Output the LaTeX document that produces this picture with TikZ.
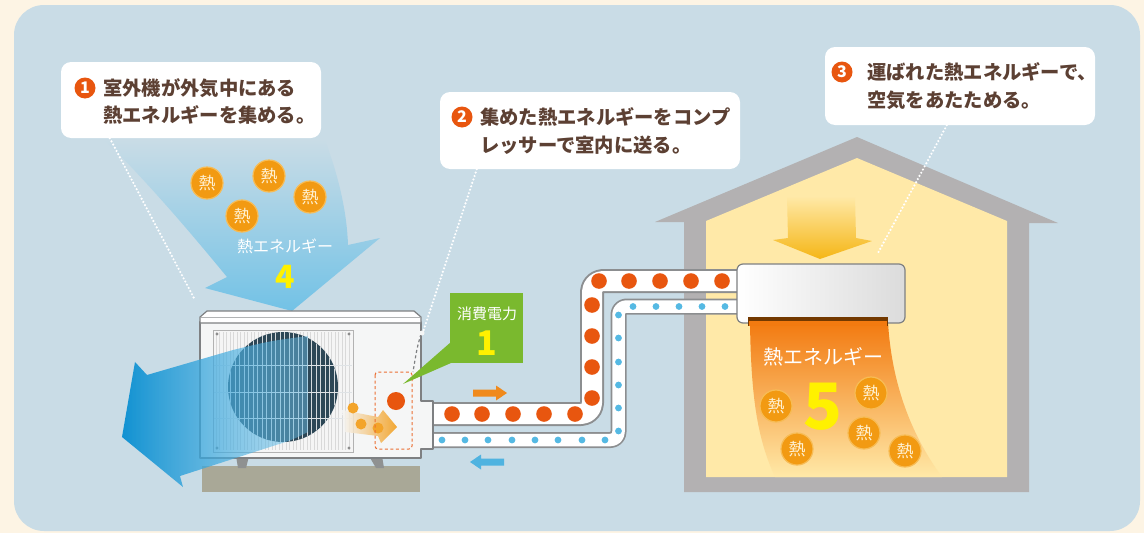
\documentclass[tikz,border=0pt]{standalone}
\usepackage{fontspec}
\newfontfamily\jp{Noto Sans CJK JP}
\usetikzlibrary{fadings}
\definecolor{cream}{HTML}{FDF4E4}
\definecolor{panel}{HTML}{C9DCE6}
\definecolor{txtbrown}{HTML}{5C4033}
\definecolor{numorange}{HTML}{E8560F}
\definecolor{heatorange}{HTML}{F29A12}
\definecolor{heatring}{HTML}{F7BC55}
\definecolor{heattext}{HTML}{FFF1D2}
\definecolor{dotred}{HTML}{E8560F}
\definecolor{dotblue}{HTML}{55B9E3}
\definecolor{pipeedge}{HTML}{8C8E90}
\definecolor{housegrey}{HTML}{B3B1B2}
\definecolor{houseyellow}{HTML}{FFE9A8}
\definecolor{arrowyellow}{HTML}{F5B616}
\definecolor{flowtop}{HTML}{F27A10}
\definecolor{flowmid}{HTML}{F7A848}
\definecolor{digityellow}{HTML}{FFF100}
\definecolor{powergreen}{HTML}{7AB92E}
\definecolor{unitbody}{HTML}{F5F6F6}
\definecolor{unitedge}{HTML}{7E8082}
\definecolor{fandark}{HTML}{2D4756}
\definecolor{basegrey}{HTML}{A9A897}
\definecolor{leggrey}{HTML}{8F9191}
\definecolor{airblue}{HTML}{1192D2}
\definecolor{airlight}{HTML}{6FC2EA}
\definecolor{topblue}{HTML}{72C2E6}
\definecolor{smallblue}{HTML}{4FB3E0}
\definecolor{smallorange}{HTML}{F08A1C}
\tikzfading[name=airfade, left color=transparent!0, right color=transparent!55]
\begin{document}
\begin{tikzpicture}[x=1pt,y=-1pt,
  callout/.style={fill=white, rounded corners=10pt, inner sep=0pt},
  calltext/.style={anchor=west, inner sep=0pt, text=txtbrown,
    font=\jp\bfseries\fontsize{19.3}{19.3}\selectfont},
  numdisc/.style={circle, fill=numorange, minimum size=21pt, inner sep=0pt,
    text=white, font=\jp\bfseries\fontsize{16}{16}\selectfont},
  heat/.style={circle, fill=heatorange, draw=heatring, line width=1.2pt,
    minimum size=32pt, inner sep=0pt, text=heattext,
    font=\jp\fontsize{17}{17}\selectfont},
  leader/.style={white, line width=2.4pt, line cap=round,
    dash pattern=on 0pt off 3.6pt},
  pipeouter/.style={draw=pipeedge, line join=round},
]
\useasboundingbox (0,0) rectangle (1144,533);
\fill[cream] (0,0) rectangle (1144,533);
\fill[panel, rounded corners=30pt] (14,5) rectangle (1140,531);

% ---- house ----
\fill[housegrey] (655,222) -- (857,137) -- (1058,223) -- (1029,223)
  -- (1029,492) -- (684,492) -- (684,222) -- cycle;
\fill[houseyellow] (706,221) -- (857,158) -- (1007,221) -- (1007,477)
  -- (706,477) -- cycle;
% warm air pushed down into the room
\shade[top color=houseyellow, bottom color=arrowyellow]
  (787,196) -- (855,196) -- (856,238) -- (872,241) -- (820,259)
  -- (773,240) -- (788,238) -- cycle;
% warm air blown out of the indoor unit
\shade[top color=flowtop, middle color=flowmid, bottom color=houseyellow]
  (750,322) -- (888,322) .. controls (892,390) and (915,440) .. (942,477)
  -- (775,477) .. controls (758,440) and (751,400) .. (750,322) -- cycle;

% ---- refrigerant pipes ----
\draw[pipeouter, line width=24pt, rounded corners=11pt]
  (428,414) -- (592,414) -- (592,281) -- (745,281);
\draw[white, line width=20pt, rounded corners=11pt, line join=round]
  (428,414) -- (592,414) -- (592,281) -- (745,281);
\draw[pipeouter, line width=16pt, rounded corners=8pt]
  (428,440) -- (618.5,440) -- (618.5,306.5) -- (745,306.5);
\draw[white, line width=12.5pt, rounded corners=8pt, line join=round]
  (428,440) -- (618.5,440) -- (618.5,306.5) -- (745,306.5);
\foreach \x in {452,482,513,544,575} \fill[dotred] (\x,414) circle[radius=7.8];
\foreach \y in {305,336,367,398} \fill[dotred] (592,\y) circle[radius=7.8];
\foreach \x in {599,629,660,691,722} \fill[dotred] (\x,281) circle[radius=7.8];
\foreach \x in {442,465,488,512,535,558,582,605} \fill[dotblue] (\x,440) circle[radius=3.4];
\foreach \y in {315,338,362,385,408,431} \fill[dotblue] (618.5,\y) circle[radius=3.4];
\foreach \x in {633,656,679,702,725} \fill[dotblue] (\x,306.5) circle[radius=3.4];
% flow direction marks
\fill[smallorange] (473,389.5) -- (496,389.5) -- (496,385.5) -- (507,393)
  -- (496,400.5) -- (496,396.5) -- (473,396.5) -- cycle;
\fill[smallblue] (504,458.5) -- (481,458.5) -- (481,454.5) -- (470,462)
  -- (481,469.5) -- (481,465.5) -- (504,465.5) -- cycle;

% ---- indoor unit ----
\shade[left color=white, right color=black!14, draw=unitedge, line width=1.2pt,
  rounded corners=6pt] (737,264) rectangle (905,323);
\fill[black!55!orange] (748,317) rectangle (888,326);
\fill[flowtop] (749,321) rectangle (887,326);
\node[font=\jp\fontsize{20}{20}\selectfont, text=white] (heat5) at (823,357) {熱エネルギー};
\node[font=\jp\bfseries\fontsize{64}{64}\selectfont, text=digityellow] (five) at (823,407) {5};
\node[heat] (h5a) at (776,406) {熱};
\node[heat] (h5b) at (871,393) {熱};
\node[heat] (h5c) at (797,449) {熱};
\node[heat] (h5d) at (864,433) {熱};
\node[heat] (h5e) at (905,451) {熱};

% ---- outside air drawn into the outdoor unit ----
\shade[top color=panel, bottom color=topblue]
  (105,140) -- (325,140) .. controls (340,180) and (347,215) .. (348,245)
  -- (380,238) -- (292,311) -- (205,288) -- (227,277)
  .. controls (190,232) and (150,185) .. (105,140) -- cycle;
\node[heat] (h4a) at (207,183) {熱};
\node[heat] (h4b) at (269,176) {熱};
\node[heat] (h4c) at (310,197) {熱};
\node[heat] (h4d) at (242,216) {熱};
\node[font=\jp\fontsize{16}{16}\selectfont, text=white] (heat4) at (285,246) {熱エネルギー};
\node[font=\jp\bfseries\fontsize{32}{32}\selectfont, text=digityellow] (four) at (285,277) {4};

% ---- outdoor unit ----
\fill[basegrey] (202,466) rectangle (420,492);
\fill[leggrey] (236,456) -- (249,456) -- (246,468) -- (238,468) -- cycle;
\fill[leggrey] (369,456) -- (382,456) -- (384,468) -- (376,468) -- cycle;
\draw[unitedge, fill=unitbody, line width=1.2pt, line join=round]
  (200,322) -- (421,322) -- (421,401) -- (433,401) -- (433,449) -- (421,449)
  -- (421,458) -- (200,458) -- cycle;
\draw[unitedge, fill=white, line width=1.2pt, line join=round]
  (200,317) -- (207,311) -- (414,311) -- (421,317) -- (421,323) -- (200,323) -- cycle;
\draw[unitedge!60, line width=0.6pt] (201,317) -- (420,317);
% grille and fan
\fill[black!4] (213,330) rectangle (353,452);
\foreach \x in {216,219.5,...,350} \draw[black!15, line width=0.5pt] (\x,332) -- (\x,450);
\draw[black!30, line width=0.6pt] (213,330) rectangle (353,452);
\fill[fandark] (283,387) circle[radius=55];
\begin{scope}
  \clip (283,387) circle[radius=55];
  \foreach \x in {226,230.5,...,342} \draw[white!80!fandark, line width=0.8pt] (\x,330) -- (\x,445);
\end{scope}
\foreach \y in {365,392,418} \draw[white!85!fandark, line width=0.8pt] (214,\y) -- (352,\y);
\foreach \p in {(217,334),(349,334),(217,448),(349,448)} \fill[black!45] \p circle[radius=1.6];
% service port edge
\draw[unitedge, line width=1.2pt, dash pattern=on 3pt off 2.5pt] (421,334) .. controls (417,348) .. (413,372);
\fill[unitbody] (422,333) circle[radius=2.5];

% exhaust air leaving the outdoor unit
\shade[left color=airblue, right color=airlight, path fading=airfade]
  (308,336) .. controls (270,341) .. (233,350) -- (147,375) -- (135,362)
  -- (122,437) -- (183,487) -- (180,476) -- (273,446)
  .. controls (292,440) .. (308,432) -- cycle;

% compressor
\shade[left color=unitbody, right color=heatorange, opacity=0.85]
  (342,410) -- (378,417) -- (383,410) -- (397,427) -- (381,443) -- (378,436)
  -- (345,432) -- cycle;
\fill[heatorange!90] (353,408) circle[radius=5.5];
\fill[heatorange!90] (361,424) circle[radius=5.5];
\fill[heatorange!90] (378,428) circle[radius=5.5];
\draw[dotred!85, line width=1pt, dash pattern=on 3pt off 2.5pt, rounded corners=3pt]
  (375,372) rectangle (412,449);
\fill[dotred] (396,401) circle[radius=9];

% ---- electric power ----
\fill[powergreen] (451,342) -- (403,384) -- (451,363) -- cycle;
\node[fill=powergreen, minimum width=73pt, minimum height=70pt, inner sep=0pt] (power) at (486.5,328) {};
\node[font=\jp\fontsize{15}{15}\selectfont, text=white] (powlbl) at (487,314) {消費電力};
\node[font=\jp\bfseries\fontsize{34}{34}\selectfont, text=digityellow] (one) at (487,343) {1};

% ---- explanation callouts ----
\coordinate (e1) at (195,300);
\coordinate (e2) at (423,332);
\coordinate (e3) at (878,253);
\node[callout, minimum width=260pt, minimum height=76pt] (c1) at (191,100) {};
\node[callout, minimum width=300pt, minimum height=77pt] (c2) at (590,130.5) {};
\node[callout, minimum width=270pt, minimum height=78pt] (c3) at (960,86) {};
\draw[leader] ([xshift=49pt]c1.south west) -- (e1);
\draw[leader] ([xshift=37pt]c2.south west) -- (e2);
\draw[leader] ([xshift=122pt]c3.south west) -- (e3);

\node[numdisc] (n1) at (85,88) {1};
\node[calltext] (t1a) at (103,88) {室外機が外気中にある};
\node[calltext] (t1b) at (103,115) {熱エネルギーを集める。};
\node[numdisc] (n2) at (462,117) {2};
\node[calltext] (t2a) at (480,117) {集めた熱エネルギーをコンプ};
\node[calltext] (t2b) at (480,145) {レッサーで室内に送る。};
\node[numdisc] (n3) at (842,72) {3};
\node[calltext] (t3a) at (867,72) {運ばれた熱エネルギーで、};
\node[calltext] (t3b) at (867,100) {空気をあたためる。};
\end{tikzpicture}
\end{document}
